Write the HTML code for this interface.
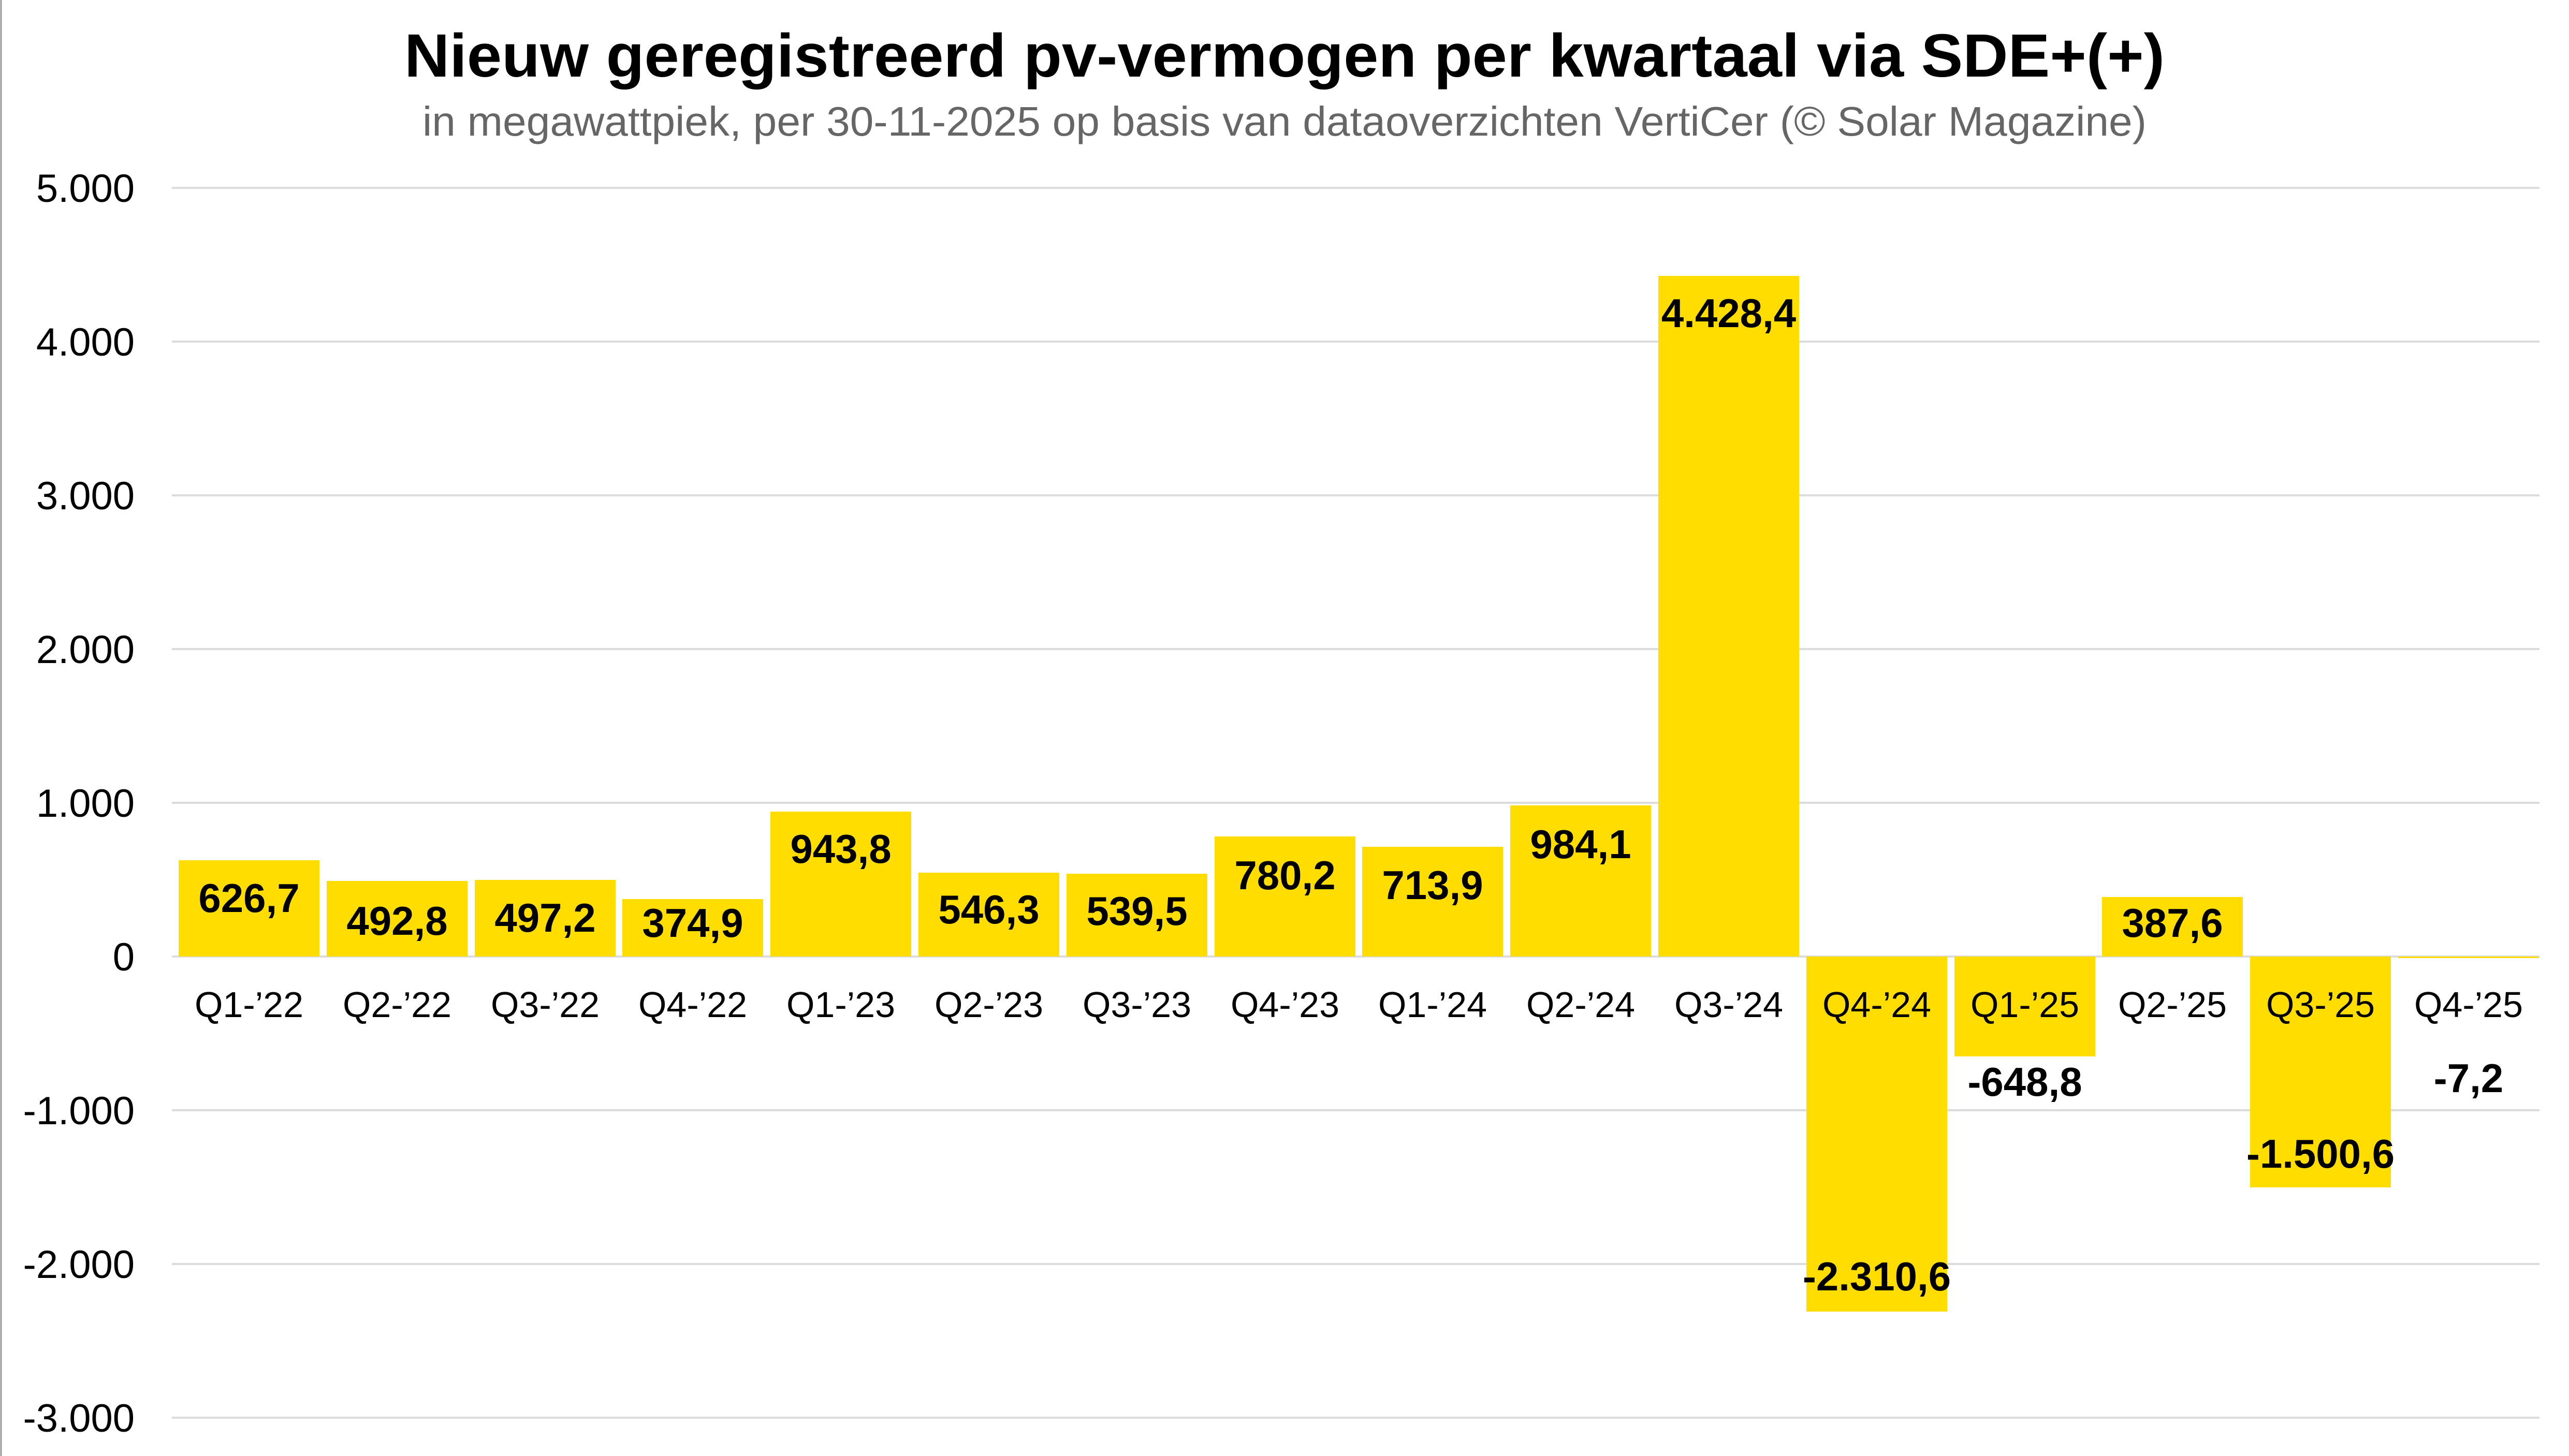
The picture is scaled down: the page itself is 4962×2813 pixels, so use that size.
<!DOCTYPE html>
<html><head><meta charset="utf-8"><style>
html,body{margin:0;padding:0;background:#fff;}
svg{display:block;}
text{font-family:"Liberation Sans",Arial,sans-serif;}
</style></head><body>
<svg width="4962" height="2813" viewBox="0 0 4962 2813" xmlns="http://www.w3.org/2000/svg">
<rect x="0" y="0" width="4962" height="2813" fill="#fff"/>
<line x1="2" y1="0" x2="2" y2="2813" stroke="#999" stroke-width="3"/>
<text x="2481" y="148" text-anchor="middle" font-size="118" font-weight="bold" fill="#000" textLength="3400" lengthAdjust="spacingAndGlyphs">Nieuw geregistreerd pv-vermogen per kwartaal via SDE+(+)</text>
<text x="2481" y="262" text-anchor="middle" font-size="80" fill="#666" textLength="3330" lengthAdjust="spacingAndGlyphs">in megawattpiek, per 30-11-2025 op basis van dataoverzichten VertiCer (© Solar Magazine)</text>
<g stroke="#dcdcdc" stroke-width="4">
<line x1="332" x2="4905" y1="363" y2="363"/>
<line x1="332" x2="4905" y1="660" y2="660"/>
<line x1="332" x2="4905" y1="957" y2="957"/>
<line x1="332" x2="4905" y1="1254" y2="1254"/>
<line x1="332" x2="4905" y1="1551" y2="1551"/>
<line x1="332" x2="4905" y1="1848" y2="1848"/>
<line x1="332" x2="4905" y1="2145" y2="2145"/>
<line x1="332" x2="4905" y1="2442" y2="2442"/>
<line x1="332" x2="4905" y1="2739" y2="2739"/>
</g>
<g font-size="76" fill="#000" text-anchor="end">
<text x="260" y="390">5.000</text>
<text x="260" y="687">4.000</text>
<text x="260" y="984">3.000</text>
<text x="260" y="1281">2.000</text>
<text x="260" y="1578">1.000</text>
<text x="260" y="1875">0</text>
<text x="260" y="2172">-1.000</text>
<text x="260" y="2469">-2.000</text>
<text x="260" y="2766">-3.000</text>
</g>
<g transform="translate(6,0)">
<g fill="#ffdd00">
<rect x="339" y="1662" width="272" height="186"/>
<rect x="625" y="1702" width="272" height="146"/>
<rect x="911" y="1700" width="272" height="148"/>
<rect x="1196" y="1737" width="272" height="111"/>
<rect x="1482" y="1568" width="272" height="280"/>
<rect x="1768" y="1686" width="272" height="162"/>
<rect x="2054" y="1688" width="272" height="160"/>
<rect x="2340" y="1616" width="272" height="232"/>
<rect x="2625" y="1636" width="272" height="212"/>
<rect x="2911" y="1556" width="272" height="292"/>
<rect x="3197" y="533" width="272" height="1315"/>
<rect x="3483" y="1848" width="272" height="686"/>
<rect x="3769" y="1848" width="272" height="193"/>
<rect x="4054" y="1733" width="272" height="115"/>
<rect x="4340" y="1848" width="272" height="446"/>
<rect x="4626" y="1848" width="272" height="3"/>
</g>
<g font-size="70" fill="#000" text-anchor="middle">
<text x="475" y="1965">Q1-’22</text>
<text x="761" y="1965">Q2-’22</text>
<text x="1047" y="1965">Q3-’22</text>
<text x="1332" y="1965">Q4-’22</text>
<text x="1618" y="1965">Q1-’23</text>
<text x="1904" y="1965">Q2-’23</text>
<text x="2190" y="1965">Q3-’23</text>
<text x="2476" y="1965">Q4-’23</text>
<text x="2761" y="1965">Q1-’24</text>
<text x="3047" y="1965">Q2-’24</text>
<text x="3333" y="1965">Q3-’24</text>
<text x="3619" y="1965">Q4-’24</text>
<text x="3905" y="1965">Q1-’25</text>
<text x="4190" y="1965">Q2-’25</text>
<text x="4476" y="1965">Q3-’25</text>
<text x="4762" y="1965">Q4-’25</text>
</g>
<g font-size="78" font-weight="bold" fill="#000" text-anchor="middle">
<text x="475" y="1762">626,7</text>
<text x="761" y="1806">492,8</text>
<text x="1047" y="1800">497,2</text>
<text x="1332" y="1810">374,9</text>
<text x="1618" y="1667">943,8</text>
<text x="1904" y="1784">546,3</text>
<text x="2190" y="1787">539,5</text>
<text x="2476" y="1718">780,2</text>
<text x="2761" y="1737">713,9</text>
<text x="3047" y="1658">984,1</text>
<text x="3333" y="632">4.428,4</text>
<text x="3619" y="2493">-2.310,6</text>
<text x="3905" y="2117">-648,8</text>
<text x="4190" y="1810">387,6</text>
<text x="4476" y="2256">-1.500,6</text>
<text x="4762" y="2110">-7,2</text>
</g>
</g>
</svg>
</body></html>
